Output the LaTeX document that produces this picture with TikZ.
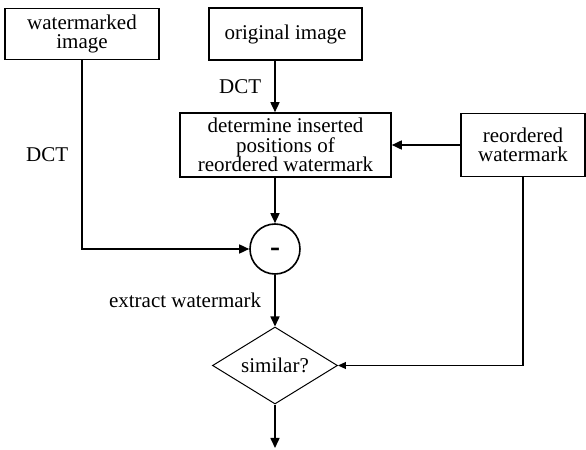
\documentclass[tikz,border=0pt]{standalone}
\usepackage{fontspec}
\setmainfont{Liberation Serif}
\usetikzlibrary{positioning, arrows.meta, shapes.geometric}
\tikzset{
    box/.style={draw, line width=0.8pt, align=center, inner sep=2pt,
        font=\fontsize{10.5}{9.8}\selectfont}, % rectangular blocks
    junction/.style={draw, circle, line width=0.8pt, minimum size=25pt,
        inner sep=0pt, text height=0pt, text depth=0pt,
        font=\fontsize{15}{15}\selectfont\bfseries},
    decision/.style={draw, diamond, aspect=1.62, line width=0.5pt,
        minimum width=62.5pt, minimum height=38.5pt, inner sep=0pt,
        font=\fontsize{10.5}{9.8}\selectfont},
    tag/.style={inner sep=6.5pt, font=\fontsize{10.5}{9.8}\selectfont},
}
\tikzstyle{arrow} = [line width=0.8pt, -{Triangle[length=5pt, width=4.5pt]}]
\tikzstyle{thinarrow} = [line width=0.6pt, -{Triangle[length=4pt, width=3.5pt]}]

\begin{document}
\begin{tikzpicture}[on grid]
    % Blocchi
    \node[box, minimum width=76.5pt, minimum height=26pt] (oimg) {original image};
    \node[box, minimum width=77pt, minimum height=25.5pt] (wimg) [left=101.75pt of oimg] {watermarked\\image};
    \node[box, minimum width=105.5pt, minimum height=32pt] (det) [below=55.5pt of oimg] {determine inserted\\positions of\\reordered watermark};
    \node[box, minimum width=62pt, minimum height=31.5pt] (rwm) [right=118.75pt of det] {reordered\\watermark};
    \node[junction] (minus) [below left=52pt and 5.25pt of det] {\raisebox{-3.6pt}{-}};
    \node[decision] (sim) [below=58.25pt of minus] {similar?};
    \coordinate[below=41.25pt of sim] (out);

    % Collegamenti
    \draw[arrow] (minus |- oimg.south) -- node[tag, left] {DCT} (minus |- det.north);
    \draw[arrow] (rwm) -- (det);
    \draw[arrow] (minus |- det.south) -- (minus);
    \draw[arrow] (wimg) |- node[tag, left, pos=0.25] {DCT} (minus);
    \draw[arrow] (minus) -- node[tag, left] {extract watermark} (sim);
    \draw[thinarrow] (rwm) |- (sim);
    \draw[arrow] (sim) -- (out);

    \useasboundingbox (-142.75pt,17pt) rectangle (150.25pt,-208pt);
\end{tikzpicture}
\end{document}
